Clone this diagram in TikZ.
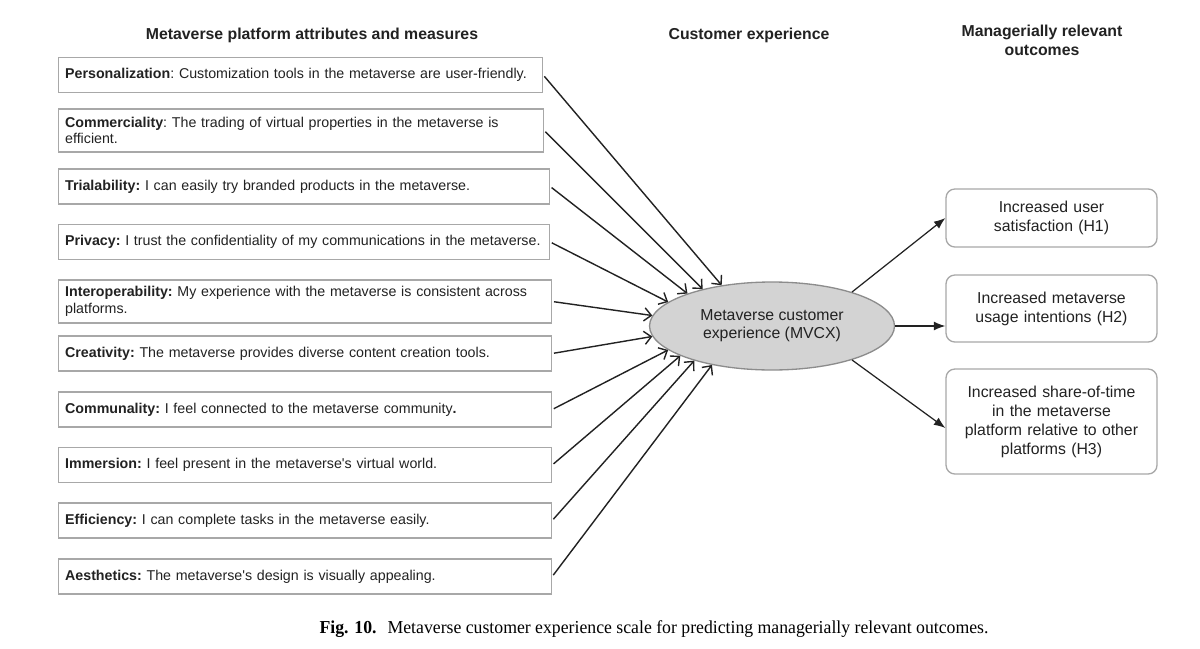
\documentclass[tikz,border=0pt]{standalone}
\usepackage{fontspec}
\setmainfont{Liberation Sans}[Ligatures=TeXOff]
\newfontfamily\capfont[FakeStretch=0.97]{Liberation Serif}
\usetikzlibrary{arrows.meta, shapes.geometric}

\definecolor{boxgray}{HTML}{A8A8A8}
\definecolor{ellgray}{HTML}{D3D3D3}
\definecolor{ellline}{HTML}{8C8C8C}
\definecolor{ink}{HTML}{222222}

\tikzset{
    heading/.style={font=\bfseries\fontsize{9}{10.8}\selectfont, align=center, text=ink},
    attr/.style={draw=boxgray, line width=0.75pt, anchor=west, align=left, inner xsep=0.13cm,
        text width=9.6cm, minimum height=0.7cm, font=\frenchspacing\fontsize{8.1}{9.4}\selectfont, text=ink},
    outcome/.style={draw=boxgray, line width=0.75pt, rounded corners=5pt, align=center,
        inner xsep=0.11cm, text width=4.0cm, font=\fontsize{9}{10.8}\selectfont, text=ink},
    inarrow/.style={draw=ink, line width=0.8pt, -{Straight Barb[length=4pt,width=7.5pt]}, shorten <=1pt},
    outarrow/.style={draw=ink, line width=0.7pt, -{Latex[length=6.5pt,width=5pt]}}
}

\begin{document}
\begin{tikzpicture}[x=0.02cm, y=-0.02cm]
    \path[fill=white] (0,0) rectangle (1200,649);
    \useasboundingbox (0,0) rectangle (1200,649);

    % Headings
    \node[heading] (hattr) at (312,35) {Metaverse platform attributes and measures};
    \node[heading] (hcx) at (749,35) {Customer experience};
    \node[heading] (hout) at (1042,40) {Managerially relevant\\outcomes};

    % Draw attribute boxes
    \node[attr, text width=9.42cm] (a1) at (58,75) {\textbf{Personalization}: Customization tools in the metaverse are user-friendly.};
    \node[attr, text width=9.44cm, minimum height=0.86cm] (a2) at (58,130.5) {\textbf{Commerciality}: The trading of virtual properties in the metaverse is\\efficient.};
    \node[attr, text width=9.56cm] (a3) at (58,186.5) {\textbf{Trialability:} I can easily try branded products in the metaverse.};
    \node[attr, text width=9.56cm] (a4) at (58,242) {\textbf{Privacy:} I trust the confidentiality of my communications in the metaverse.};
    \node[attr, minimum height=0.86cm] (a5) at (58,301.5) {\textbf{Interoperability:} My experience with the metaverse is consistent across\\platforms.};
    \node[attr] (a6) at (58,353.5) {\textbf{Creativity:} The metaverse provides diverse content creation tools.};
    \node[attr] (a7) at (58,409.5) {\textbf{Communality:} I feel connected to the metaverse community\textbf{.}};
    \node[attr] (a8) at (58,465) {\textbf{Immersion:} I feel present in the metaverse's virtual world.};
    \node[attr] (a9) at (58,520.5) {\textbf{Efficiency:} I can complete tasks in the metaverse easily.};
    \node[attr] (a10) at (58,576.5) {\textbf{Aesthetics:} The metaverse's design is visually appealing.};

    % Draw central construct
    \node[ellipse, draw=ellline, fill=ellgray, line width=0.75pt, minimum width=4.9cm, minimum height=1.76cm,
        inner sep=0pt, align=center, font=\fontsize{9}{10.4}\selectfont, text=ink] (mvcx) at (772,326)
        {Metaverse customer\\experience (MVCX)};

    % Draw outcome boxes
    \node[outcome, minimum height=1.16cm] (o1) at (1051.5,218) {Increased user\\satisfaction (H1)};
    \node[outcome, minimum height=1.34cm] (o2) at (1051.5,308.5) {Increased metaverse\\usage intentions (H2)};
    \node[outcome, minimum height=2.1cm] (o3) at (1051.5,421.5) {Increased share-of-time\\in the metaverse\\platform relative to other\\platforms (H3)};

    % Draw connections
    \foreach \i/\ang in {1/141, 2/152, 3/159, 4/167, 5/175, 6/185, 7/193, 8/198, 9/204, 10/213}
        \draw[inarrow] (a\i.east) -- (mvcx.\ang);
    \draw[outarrow] (mvcx.23) -- (o1.west);
    \draw[outarrow] (mvcx.east) -- (mvcx.east -| o2.west);
    \draw[outarrow] (mvcx.-23) -- ([yshift=-0.13cm]o3.west);

    % Caption
    \node[font=\capfont\fontsize{10.4}{12}\selectfont] (cap) at (654,629)
        {\textbf{Fig. 10.}\hspace{0.6em}Metaverse customer experience scale for predicting managerially relevant outcomes.};
\end{tikzpicture}
\end{document}
